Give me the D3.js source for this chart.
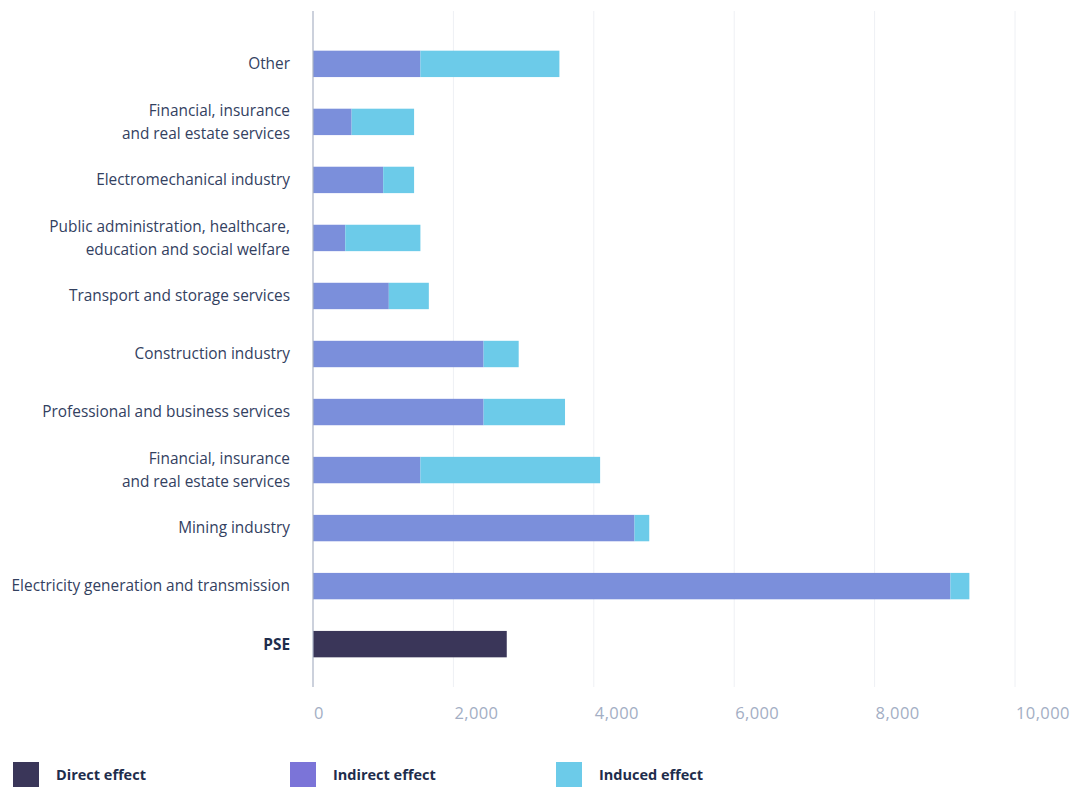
<!DOCTYPE html>
<html>
<head>
<meta charset="utf-8">
<script src="https://cdn.jsdelivr.net/npm/d3@7"></script>
<style>
  html, body { margin: 0; padding: 0; background: #ffffff; }
  svg { display: block; font-family: "Open Sans", "Noto Sans", sans-serif; }
</style>
</head>
<body>
<svg id="chart" width="1074" height="787"></svg>
<script>
// Sector labels, top to bottom (multi-line labels split with "\n")
const categories = [
  "Other",
  "Financial, insurance\nand real estate services",
  "Electromechanical industry",
  "Public administration, healthcare,\neducation and social welfare",
  "Transport and storage services",
  "Construction industry",
  "Professional and business services",
  "Financial, insurance\nand real estate services",
  "Mining industry",
  "Electricity generation and transmission",
  "PSE"
];
const directEffect   = [0, 0, 0, 0, 0, 0, 0, 0, 0, 0, 2760];
const indirectEffect = [1530, 550, 1000, 460, 1080, 2430, 2430, 1530, 4580, 9080, 0];
const inducedEffect  = [1980, 890, 440, 1070, 570, 500, 1160, 2560, 210, 270, 0];
const xTicks = [0, 2000, 4000, 6000, 8000, 10000];
const seriesNames = ["Direct effect", "Indirect effect", "Induced effect"];

const barColors    = { direct: "#3a3659", indirect: "#7b8fdb", induced: "#6ccbe9" };
const legendColors = ["#3a3659", "#7b74d8", "#6ccbe9"];

const svg = d3.select("#chart");
const margin = { left: 313, right: 59, top: 11, bottom: 100 };
const width = 1074, height = 787;
const plotBottom = 687;

const x = d3.scaleLinear().domain([0, 10000]).range([margin.left, width - margin.right]);
const y = d3.scaleBand()
  .domain(categories.map((c, i) => i))
  .range([35, 673])
  .paddingInner(0.545)
  .paddingOuter(0.27);

// Vertical grid lines
svg.append("g")
  .selectAll("line")
  .data(xTicks.slice(1))
  .join("line")
  .attr("x1", d => x(d)).attr("x2", d => x(d))
  .attr("y1", margin.top).attr("y2", plotBottom)
  .attr("stroke", "#eef0f4").attr("stroke-width", 1);

// Stacked bars
const rows = categories.map((c, i) => ({
  i, direct: directEffect[i], indirect: indirectEffect[i], induced: inducedEffect[i]
}));
const stack = d3.stack().keys(["direct", "indirect", "induced"]);
const layers = stack(rows);

svg.append("g")
  .selectAll("g")
  .data(layers)
  .join("g")
  .attr("fill", d => barColors[d.key])
  .selectAll("rect")
  .data(d => d.filter(s => s[1] - s[0] > 0))
  .join("rect")
  .attr("x", d => x(d[0]))
  .attr("width", d => x(d[1]) - x(d[0]))
  .attr("y", d => y(d.data.i))
  .attr("height", y.bandwidth());

// Category axis line
svg.append("line")
  .attr("x1", x(0)).attr("x2", x(0))
  .attr("y1", margin.top).attr("y2", plotBottom)
  .attr("stroke", "#aab2c5").attr("stroke-width", 1.2);

// Category labels
const labels = svg.append("g")
  .selectAll("text")
  .data(categories)
  .join("text")
  .attr("text-anchor", "end")
  .attr("x", 290)
  .attr("font-size", 15.4)
  .attr("fill", d => d === "PSE" ? "#1e2d4c" : "#33415f")
  .attr("font-weight", d => d === "PSE" ? 700 : 400);

labels.each(function(d, i) {
  const lines = d.split("\n");
  const cy = y(i) + y.bandwidth() / 2;
  const lh = 23;
  const t = d3.select(this);
  lines.forEach((ln, k) => {
    t.append("tspan")
      .attr("x", 290)
      .attr("y", cy + (k - (lines.length - 1) / 2) * lh)
      .attr("dy", "0.35em")
      .text(ln);
  });
});

// Value axis tick labels
svg.append("g")
  .selectAll("text")
  .data(xTicks)
  .join("text")
  .attr("x", d => x(d) + 1)
  .attr("y", 713)
  .attr("dy", "0.35em")
  .attr("font-size", 16.5)
  .attr("letter-spacing", 0.4)
  .attr("fill", "#a3aec4")
  .text(d => d3.format(",")(d));

// Legend
const legendX = [13, 290, 556];
const legend = svg.append("g")
  .selectAll("g")
  .data(seriesNames)
  .join("g")
  .attr("transform", (d, i) => `translate(${legendX[i]},762)`);
legend.append("rect")
  .attr("width", 26).attr("height", 26)
  .attr("fill", (d, i) => legendColors[i]);
legend.append("text")
  .attr("x", 43)
  .attr("y", 13)
  .attr("dy", "0.35em")
  .attr("font-size", 14.5)
  .attr("font-weight", 700)
  .attr("fill", "#1e2d4c")
  .text(d => d);
</script>
</body>
</html>
